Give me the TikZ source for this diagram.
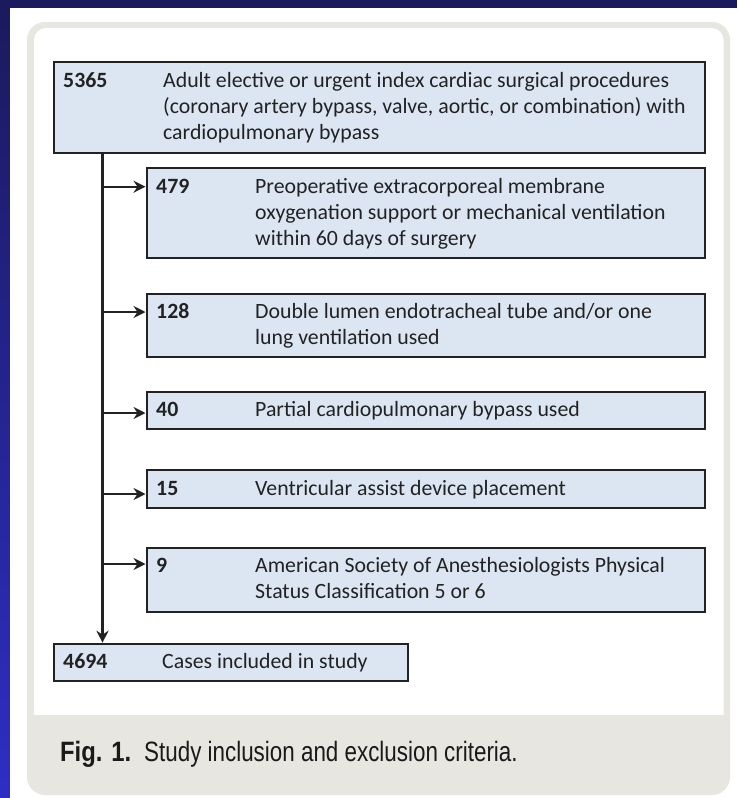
\documentclass[tikz,border=0pt]{standalone}
\usepackage{fontspec}
\setmainfont{Carlito}
\newfontfamily\capfont[FakeStretch=0.8]{Liberation Sans}
\newfontfamily\capboldfont[FakeStretch=0.85]{Liberation Sans Bold}
\usetikzlibrary{arrows.meta,calc}
\definecolor{navy}{HTML}{1B1A5E}
\definecolor{leftblue}{HTML}{2E2EC4}
\definecolor{framecol}{HTML}{E8E6E0}
\definecolor{boxfill}{HTML}{DCE6F2}
\definecolor{ink}{HTML}{222222}
\definecolor{capink}{HTML}{1A1A1A}
\begin{document}
\begin{tikzpicture}[x=1pt,y=-1pt,
  box/.style={draw=ink, line width=2pt, fill=boxfill, anchor=north west, inner sep=0pt},
  num/.style={anchor=base west, inner sep=0pt, font=\fontsize{21.8}{26}\selectfont\bfseries, text=ink},
  txt/.style={anchor=base west, inner sep=0pt, font=\fontsize{21.8}{26}\selectfont, text=ink},
  link/.style={draw=ink, line width=2.4pt},
  arr/.style={link, -{Stealth[length=12pt,width=12pt,inset=4pt]}},
  capstyle/.style={anchor=base west, inner sep=0pt, text=capink, font=\capfont\fontsize{28}{30}\selectfont},
]
\useasboundingbox (0,0) rectangle (737,798);
% background
\fill[navy] (0,0) rectangle (737,798);
\shade[top color=navy, bottom color=leftblue] (0,8) rectangle (10,798);
\fill[white] (10,8) rectangle (737,798);
\fill[framecol, rounded corners=18pt] (27,22) rectangle (730,795);
\fill[white, rounded corners=12pt] (34,28) rectangle (723.5,735);
\fill[framecol] (34,715) rectangle (723.5,740);

% boxes
\node[box, minimum width=651.5pt, minimum height=91pt] (b1) at (52.5,61) {};
\node[box, minimum width=558.5pt, minimum height=90.5pt] (b479) at (145.5,166.7) {};
\node[box, minimum width=558.5pt, minimum height=63.5pt] (b128) at (145.5,292.7) {};
\node[box, minimum width=558.5pt, minimum height=37.5pt] (b40) at (145.5,390.7) {};
\node[box, minimum width=558.5pt, minimum height=37.5pt] (b15) at (145.5,469) {};
\node[box, minimum width=558.5pt, minimum height=63.5pt] (b9) at (145.5,547) {};
\node[box, minimum width=353.5pt, minimum height=37.5pt] (b4694) at (53,642.7) {};

% texts
\node[num] (n1) at ([shift={(10.5,26.5)}]b1.north west) {5365};
\node[txt] (t1) at ([shift={(110.5,26.5)}]b1.north west) {\vtop{\hbox{Adult elective or urgent index cardiac surgical procedures}\hbox{(coronary artery bypass, valve, aortic, or combination) with}\hbox{cardiopulmonary bypass}}};
\node[num] (n479) at ([shift={(10.5,26.3)}]b479.north west) {479};
\node[txt] (t479) at ([shift={(109.5,26.3)}]b479.north west) {\vtop{\hbox{Preoperative extracorporeal membrane}\hbox{oxygenation support or mechanical ventilation}\hbox{within 60 days of surgery}}};
\node[num] (n128) at ([shift={(10.5,25.5)}]b128.north west) {128};
\node[txt] (t128) at ([shift={(109.5,25.5)}]b128.north west) {\vtop{\hbox{Double lumen endotracheal tube and/or one}\hbox{lung ventilation used}}};
\node[num] (n40) at ([shift={(10.5,26)}]b40.north west) {40};
\node[txt] (t40) at ([shift={(109.5,26)}]b40.north west) {Partial cardiopulmonary bypass used};
\node[num] (n15) at ([shift={(10.5,26)}]b15.north west) {15};
\node[txt] (t15) at ([shift={(109.5,26)}]b15.north west) {Ventricular assist device placement};
\node[num] (n9) at ([shift={(10.5,25.5)}]b9.north west) {9};
\node[txt] (t9) at ([shift={(109.5,25.5)}]b9.north west) {\vtop{\hbox{American Society of Anesthesiologists Physical}\hbox{Status Classification 5 or 6}}};
\node[num] (n4694) at ([shift={(10,25.5)}]b4694.north west) {4694};
\node[txt] (t4694) at ([shift={(109,25.5)}]b4694.north west) {Cases included in study};

% connectors
\coordinate (trunk) at (102.5,152.7);
\coordinate (a1) at (102.5,186.7);
\coordinate (a2) at (102.5,312);
\coordinate (a3) at (102.5,413);
\coordinate (a4) at (102.5,494);
\coordinate (a5) at (102.5,564);
\draw[arr] (b1.south -| trunk) -- (b4694.north -| trunk);
\draw[arr] (a1) -- (a1 -| b479.west);
\draw[arr] (a2) -- (a2 -| b128.west);
\draw[arr] (a3) -- (a3 -| b40.west);
\draw[arr] (a4) -- (a4 -| b15.west);
\draw[arr] (a5) -- (a5 -| b9.west);

% caption
\node[capstyle, font=\capboldfont\fontsize{28}{30}\selectfont] (fig) at (60,761.5) {Fig. 1.};
\node[capstyle] (captxt) at (144,761.5) {Study inclusion and exclusion criteria.};
\end{tikzpicture}
\end{document}
